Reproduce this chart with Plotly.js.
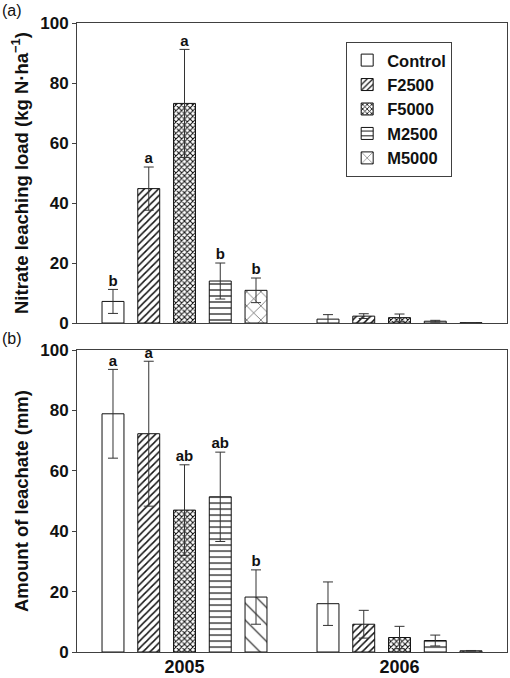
<!DOCTYPE html>
<html>
<head>
<meta charset="utf-8">
<script src="https://cdn.plot.ly/plotly-3.0.1.min.js"></script>
<style>html,body{margin:0;padding:0;background:#fff;}#chart{width:510px;height:678px;}</style>
</head>
<body>
<div id="chart"></div>
<script>
// ---- data ----
const years = ['2005', '2006'];
const series = ['Control', 'F2500', 'F5000', 'M2500', 'M5000'];
// Nitrate leaching load (kg N/ha), per series: [2005, 2006]
const nitrateMean = [[7.2, 1.3], [44.8, 2.3], [73.2, 1.8], [14.0, 0.6], [10.9, 0.1]];
const nitrateErr  = [[4.0, 1.5], [7.2, 0.8], [18.0, 1.2], [6.0, 0.3], [4.1, 0.0]];
const nitrateLetters = [['b', ''], ['a', ''], ['a', ''], ['b', ''], ['b', '']];
// Amount of leachate (mm), per series: [2005, 2006]
const leachMean = [[78.9, 16.0], [72.3, 9.2], [47.0, 4.8], [51.4, 3.8], [18.2, 0.4]];
const leachErr  = [[14.7, 7.2], [24.0, 4.6], [15.0, 3.7], [14.8, 1.8], [9.0, 0.1]];
const leachLetters = [['a', ''], ['a', ''], ['ab', ''], ['ab', ''], ['b', '']];

// ---- styles ----
const FONT = 'Liberation Sans, Arial, sans-serif';
const patA = [
  {shape: '', size: 6, solidity: 0.2},
  {shape: '/', size: 5, solidity: 0.3},
  {shape: 'x', size: 4, solidity: 0.45},
  {shape: '-', size: 6, solidity: 0.2},
  {shape: 'x', size: 10, solidity: 0.1}
];
const patB = [
  {shape: '', size: 6, solidity: 0.2},
  {shape: '/', size: 5, solidity: 0.3},
  {shape: 'x', size: 4, solidity: 0.45},
  {shape: '-', size: 6, solidity: 0.2},
  {shape: '\\', size: 12, solidity: 0.09}
];
const slot = 0.1663;   // spacing between bars within a group (x units)
const barW = 0.102;    // bar width (x units)
const errColor = '#333';

function xPos(j) { return years.map((_, g) => g + (j - (series.length - 1) / 2) * slot); }

const traces = [];
series.forEach((name, j) => {
  const xs = xPos(j);
  [[nitrateMean, nitrateErr, nitrateLetters, 'x', 'y', patA, true],
   [leachMean, leachErr, leachLetters, 'x2', 'y2', patB, false]].forEach(cfg => {
    const [mean, err, letters, xa, ya, pats, legend] = cfg;
    const p = pats[j];
    const marker = {color: 'white', line: {color: '#111', width: 1}};
    if (p.shape) marker.pattern = {shape: p.shape, size: p.size, solidity: p.solidity,
      fgcolor: '#111', bgcolor: 'white', fillmode: 'replace'};
    traces.push({
      type: 'bar', name: name, x: xs, y: mean[j], width: barW,
      xaxis: xa, yaxis: ya, marker: marker, showlegend: legend, legendgroup: name,
      error_y: {type: 'data', array: err[j], visible: true, color: errColor, thickness: 1, width: 5},
      hoverinfo: 'skip'
    });
    const idx = letters[j].map((t, i) => i).filter(i => letters[j][i] !== '');
    traces.push({
      type: 'scatter', mode: 'text',
      x: idx.map(i => xs[i]), y: idx.map(i => mean[j][i] + err[j][i]),
      text: idx.map(i => letters[j][i]), textposition: 'top center',
      textfont: {family: FONT, size: 15, color: '#111', weight: 700},
      xaxis: xa, yaxis: ya, showlegend: false, cliponaxis: false, hoverinfo: 'skip'
    });
  });
});

const axisLine = {showline: true, mirror: true, linecolor: '#404040', linewidth: 1, showgrid: false, zeroline: false};
const yCommon = Object.assign({}, axisLine, {
  range: [0, 100], dtick: 20, ticks: 'outside', ticklen: 4, tickcolor: '#404040',
  tickfont: {family: FONT, size: 17, color: '#111', weight: 700}, fixedrange: true
});
const xCommon = Object.assign({}, axisLine, {
  range: [-0.5, 1.5], tickvals: years.map((_, g) => g), ticktext: years, ticks: '',
  tickfont: {family: FONT, size: 18, color: '#111', weight: 700}, fixedrange: true,
  ticklabelstandoff: -2
});

const layout = {
  width: 510, height: 678,
  margin: {l: 77, r: 3, t: 23, b: 26},
  paper_bgcolor: 'white', plot_bgcolor: 'white',
  showlegend: true,
  barmode: 'overlay',
  xaxis: Object.assign({}, xCommon, {anchor: 'y', showticklabels: false}),
  yaxis: Object.assign({}, yCommon, {domain: [0.523, 1], anchor: 'x',
    title: {text: 'Nitrate leaching load (kg N·ha<sup>−1</sup>)', font: {family: FONT, size: 18.5, color: '#111', weight: 700}, standoff: 6}}),
  xaxis2: Object.assign({}, xCommon, {anchor: 'y2'}),
  yaxis2: Object.assign({}, yCommon, {domain: [0, 0.480], anchor: 'x2',
    title: {text: 'Amount of leachate (mm)', font: {family: FONT, size: 18.5, color: '#111', weight: 700}, standoff: 6}}),
  legend: {x: 0.626, y: 0.970, xanchor: 'left', yanchor: 'top',
    bgcolor: 'white', bordercolor: '#404040', borderwidth: 1,
    font: {family: FONT, size: 16.5, color: '#111', weight: 700}, tracegroupgap: 0},
  annotations: [
    {text: '(a)', xref: 'paper', yref: 'paper', x: -0.179, y: 1.02, xanchor: 'left', yanchor: 'middle',
     showarrow: false, font: {family: FONT, size: 16, color: '#111'}},
    {text: '(b)', xref: 'paper', yref: 'paper', x: -0.179, y: 0.499, xanchor: 'left', yanchor: 'middle',
     showarrow: false, font: {family: FONT, size: 16, color: '#111'}}
  ]
};

Plotly.newPlot('chart', traces, layout, {displayModeBar: false, staticPlot: true});
</script>
</body>
</html>
